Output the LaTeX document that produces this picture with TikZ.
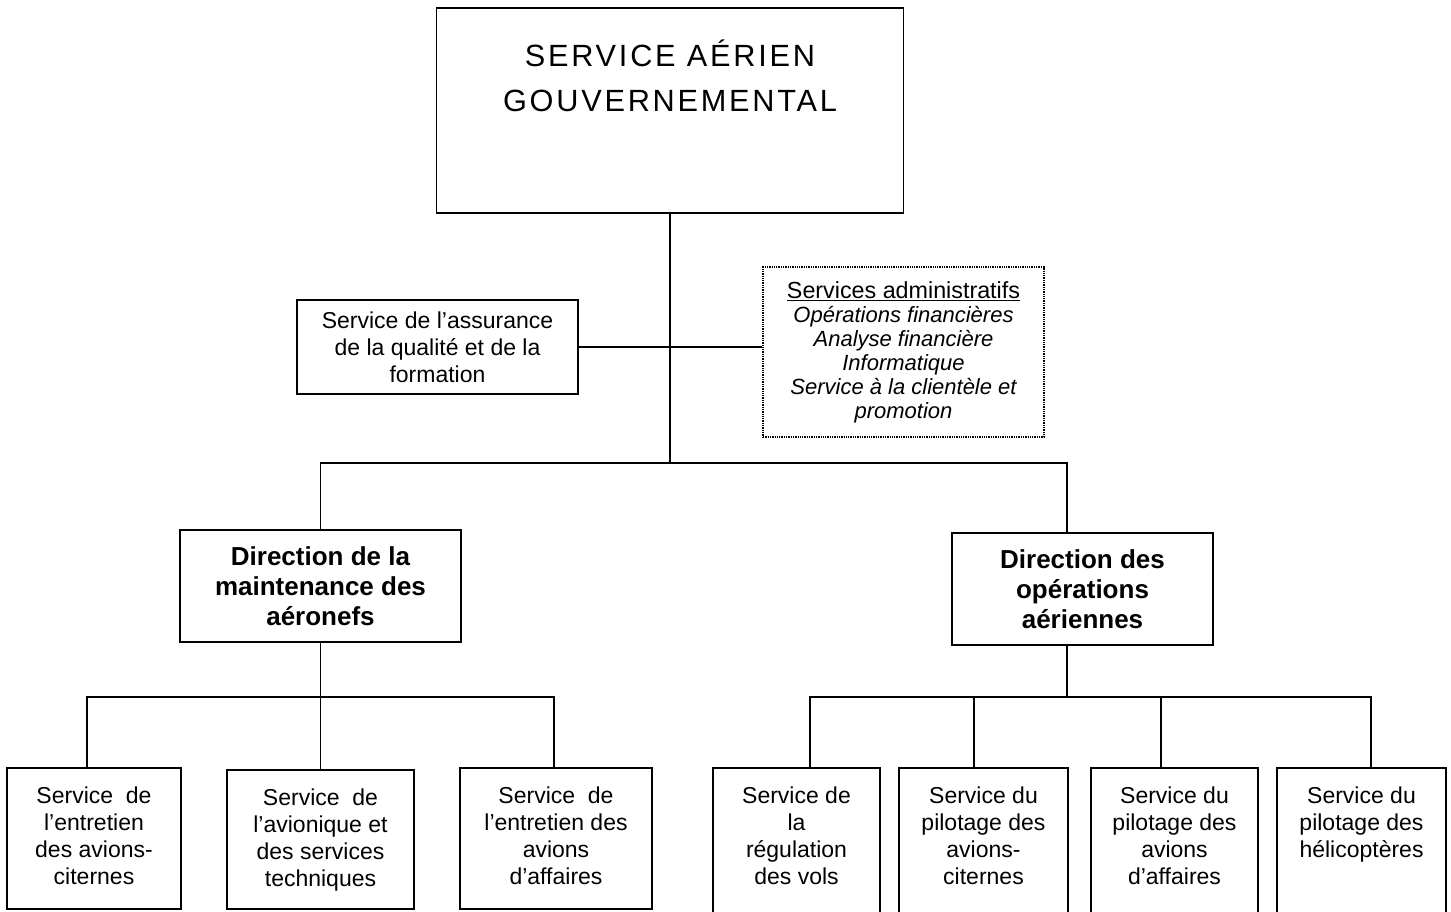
\documentclass[tikz,border=0pt]{standalone}
\usepackage{fontspec}
\setmainfont{Liberation Sans}
\newfontfamily\spacedfont[LetterSpace=9]{Liberation Sans}

\begin{document}
\begin{tikzpicture}[x=1pt,y=-1pt,line width=1.7pt,
    box/.style={draw,inner sep=0pt,align=center},
    svctext/.style={anchor=north,yshift=-19pt,inner sep=0pt,align=center,
      font=\fontsize{23}{27}\selectfont},
    dir/.style={box,minimum height=112pt,font=\bfseries\fontsize{26}{30}\selectfont}]
    \useasboundingbox (0,0) rectangle (1451,912);

    \node[box,anchor=north,minimum width=467pt,minimum height=205pt,
      label={[anchor=north,yshift=-32pt,inner sep=0pt,align=center,
        font=\spacedfont\fontsize{30.7}{45}\selectfont]north:SERVICE AÉRIEN\\GOUVERNEMENTAL}]
      (sag) at (670,7) {};

    \node[box,minimum width=281pt,minimum height=94pt,font=\fontsize{23}{27}\selectfont]
      (qual) at (437.5,347) {Service de l’assurance\\de la qualité et de la\\formation};
    \node[box,densely dotted,line width=1.3pt,minimum width=281pt,minimum height=170pt,
      font=\itshape\fontsize{22}{24}\selectfont]
      (admin) at (903.5,352) {{\upshape\fontsize{23.3}{24}\selectfont\underline{Services administratifs}}\\
        Opérations financières\\Analyse financière\\Informatique\\
        Service à la clientèle et\\promotion};

    \node[dir,minimum width=281pt] (dmaint) at (320.5,586) {Direction de la\\maintenance des\\aéronefs};
    \node[dir,minimum width=261pt] (dops) at (1082.5,589) {Direction des\\opérations\\aériennes};

    % services du bas
    \foreach \n/\cx/\dx/\ty/\w/\h/\t in {
        m1/94/87/767/174/141/{Service\ \ de\\l’entretien\\des avions-\\citernes},
        m2/320.5/320.5/769/187/139/{Service\ \ de\\l’avionique et\\des services\\techniques},
        m3/556/554/767/192/141/{Service\ \ de\\l’entretien des\\avions\\d’affaires},
        o1/796.5/810/767/167/170/{Service de\\la\\régulation\\des vols},
        o2/983.5/974/767/169/170/{Service du\\pilotage des\\avions-\\citernes},
        o3/1174.5/1161/767/167/170/{Service du\\pilotage des\\avions\\d’affaires},
        o4/1361.5/1371/767/169/170/{Service du\\pilotage des\\hélicoptères}}{
      \node[box,anchor=north,minimum width=\w pt,minimum height=\h pt,
        label={[svctext]north:\t}] (\n) at (\cx,\ty) {};
      \coordinate (\n-in) at (\dx,\ty);
    }

    \coordinate (hub) at (670,463);
    \coordinate (mbus) at (320.5,697);
    \coordinate (obus) at (1067,697);

    \draw (sag.south) -- (hub);
    \draw (qual.east) -- (qual.east -| admin.west);
    \draw (dmaint.north) |- (hub) -| (dops.north -| obus);

    \draw (dmaint.south) -- (m2.north);
    \draw (m1-in) |- (mbus) -| (m3-in);

    \draw (dops.south -| obus) -- (obus);
    \draw (o1-in) |- (obus) -| (o4-in);
    \draw (o2-in) -- (o2-in |- obus);
    \draw (o3-in) -- (o3-in |- obus);
\end{tikzpicture}
\end{document}
